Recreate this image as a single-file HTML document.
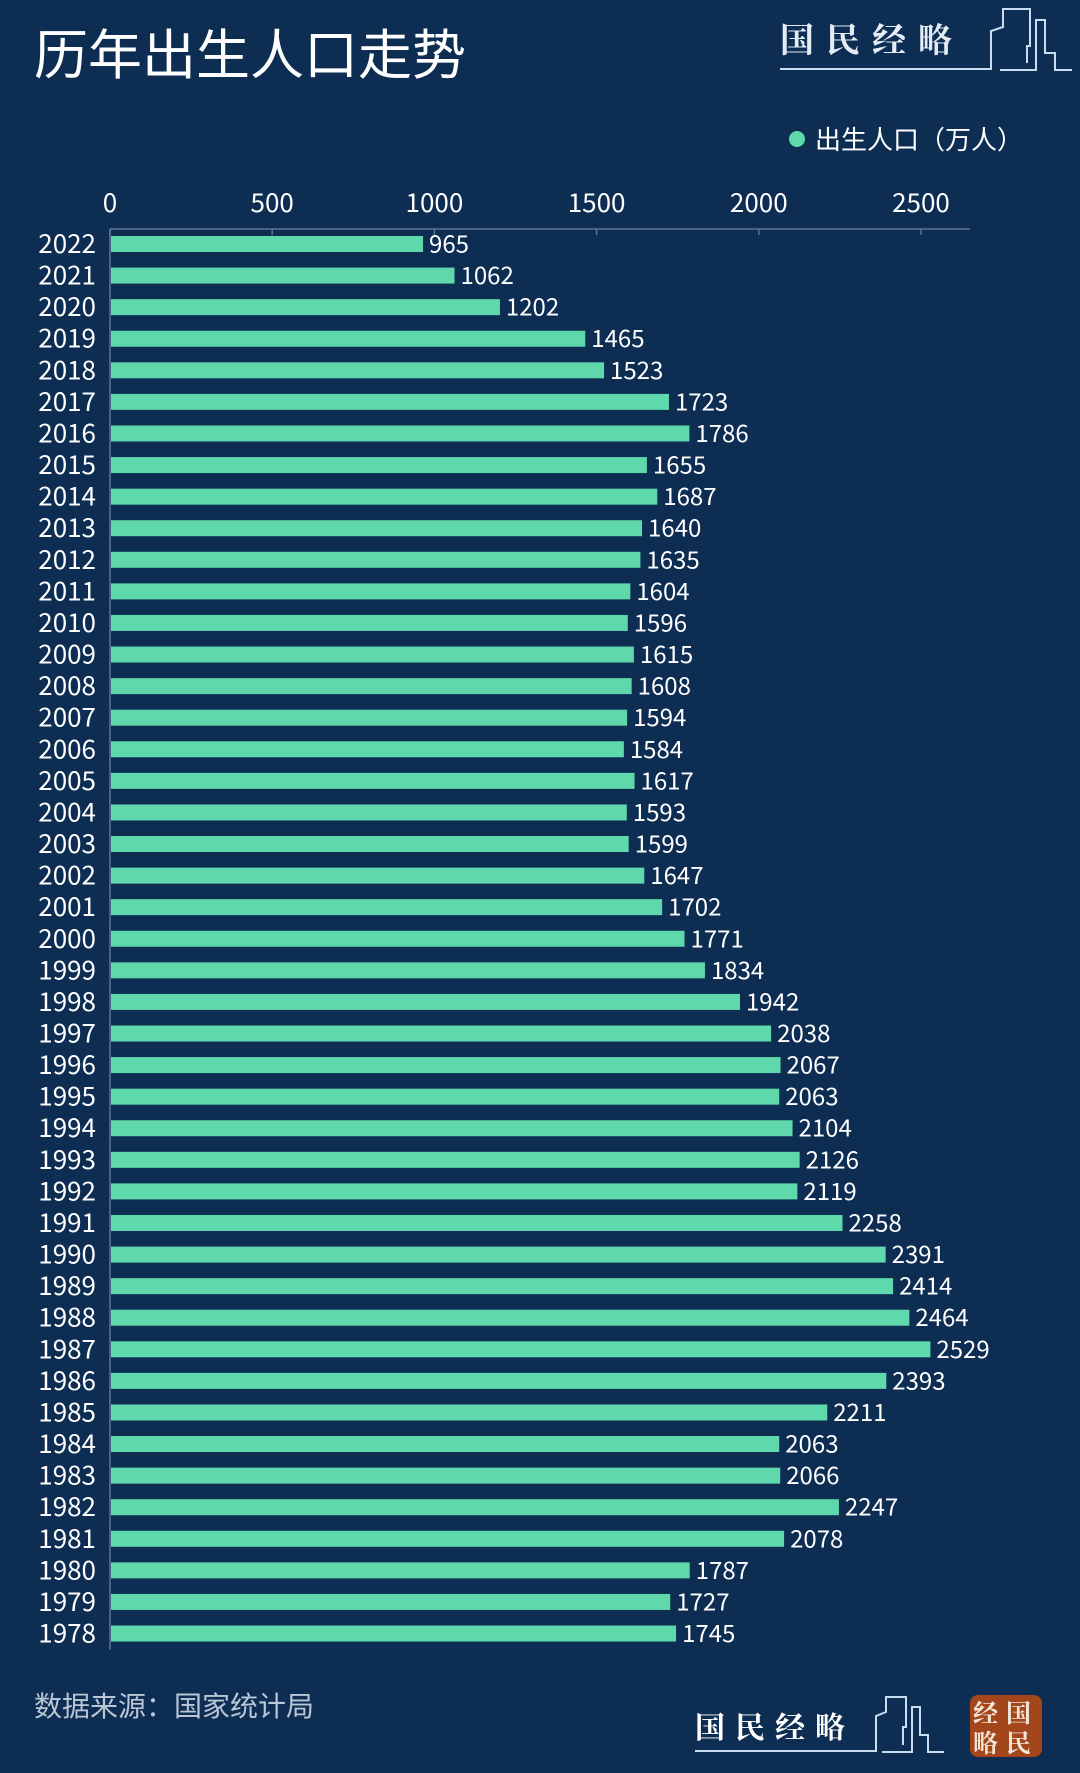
<!DOCTYPE html>
<html><head><meta charset="utf-8">
<style>
html,body{margin:0;padding:0;background:#0d2d53;}
body{width:1080px;height:1768px;position:relative;overflow:hidden;font-family:"Liberation Sans","Noto Sans CJK SC",sans-serif;}
svg text{font-family:"Noto Sans CJK SC","Liberation Sans",sans-serif;}
</style></head>
<body>
<svg id="chart" width="1080" height="1768" viewBox="0 0 1080 1768" xmlns="http://www.w3.org/2000/svg">
  <rect width="1080" height="1768" fill="#0d2d53"/>
  <text x="34" y="74" font-size="54" fill="#ffffff">历年出生人口走势</text>
  <g fill="none" stroke="#c9dcf0" stroke-width="2">
    <text x="780" y="52" font-size="34" font-weight="bold" fill="#e4ecf5" stroke="none" letter-spacing="12" style="font-family:'Noto Serif CJK SC',serif">国民经略</text>
    <polyline points="780,69 991,69 991,31 1003,27 1003,9 1030,9 1030,46 1027,46 1027,63"/>
    <polyline points="1000,70 1036,70 1036,20 1045,20 1045,53 1055,53 1055,70 1072,70"/>
  </g>
  <g>
    <circle cx="797" cy="139" r="8" fill="#5fd8ab"/>
    <text x="815" y="149" font-size="26" fill="#ffffff">出生人口（万人）</text>
  </g>
  <g id="plot"></g>
  <text x="34" y="1716" font-size="28" fill="#b9c6d6">数据来源：国家统计局</text>
  <g fill="none" stroke="#c9dcf0" stroke-width="2">
    <text x="695" y="1738" font-size="30" font-weight="bold" fill="#ffffff" stroke="none" letter-spacing="10" style="font-family:'Noto Serif CJK SC',serif">国民经略</text>
    <polyline points="695,1751 876,1751 876,1716 886,1712 886,1697 906,1697 906,1727 903,1727 903,1745"/>
    <polyline points="882,1752 912,1752 912,1707 920,1707 920,1735 928,1735 928,1752 944,1752"/>
    <rect x="970" y="1695" width="72" height="62" rx="8" fill="#a4461b" stroke="none"/>
    <text x="973" y="1722" font-size="25" font-weight="bold" fill="#f3e6d8" stroke="none" letter-spacing="8" style="font-family:'Noto Serif CJK SC',serif">经国</text>
    <text x="973" y="1752" font-size="25" font-weight="bold" fill="#f3e6d8" stroke="none" letter-spacing="8" style="font-family:'Noto Serif CJK SC',serif">略民</text>
  </g>
</svg>
<script>
const years = [2022,2021,2020,2019,2018,2017,2016,2015,2014,2013,2012,2011,2010,2009,2008,2007,2006,2005,2004,2003,2002,2001,2000,1999,1998,1997,1996,1995,1994,1993,1992,1991,1990,1989,1988,1987,1986,1985,1984,1983,1982,1981,1980,1979,1978];
const births = [965,1062,1202,1465,1523,1723,1786,1655,1687,1640,1635,1604,1596,1615,1608,1594,1584,1617,1593,1599,1647,1702,1771,1834,1942,2038,2067,2063,2104,2126,2119,2258,2391,2414,2464,2529,2393,2211,2063,2066,2247,2078,1787,1727,1745];
const ticks = [0,500,1000,1500,2000,2500];

const NS = 'http://www.w3.org/2000/svg';
const plot = document.getElementById('plot');
const x0 = 110, xMaxPx = 921, vMax = 2500;
const xScale = v => x0 + v * (xMaxPx - x0) / vMax;
const yTop = 244, step = 31.58, barH = 16;
const yScale = i => yTop + i * step;

function mk(tag, attrs) {
  const e = document.createElementNS(NS, tag);
  for (const k in attrs) e.setAttribute(k, attrs[k]);
  plot.appendChild(e);
  return e;
}

const axisTop = mk('line', {x1: x0, y1: 229, x2: 970, y2: 229, stroke: '#5d7593', 'stroke-width': 1.5});


const axisLeft = mk('line', {x1: x0, y1: 229, x2: x0, y2: 1650, stroke: '#5d7593', 'stroke-width': 1.5});



ticks.forEach(t => {
  const tl = mk('text', {x: xScale(t), y: 212, 'font-size': 26, fill: '#ffffff', 'text-anchor': 'middle'});
  tl.textContent = t;
  
  
  const tk = mk('line', {x1: xScale(t), y1: 229, x2: xScale(t), y2: 235, stroke: '#5d7593', 'stroke-width': 1.5});
  
  
});

years.forEach((yr, i) => {
  const cy = yScale(i);
  const bar = mk('rect', {x: x0 + 1, y: cy - barH / 2, width: xScale(births[i]) - x0 - 1, height: barH, fill: '#5fd8ab'});
  
  
  const yl = mk('text', {x: 96, y: cy + 9, 'font-size': 26, fill: '#ffffff', 'text-anchor': 'end'});
  yl.textContent = yr;
  
  
  const vl = mk('text', {x: xScale(births[i]) + 6, y: cy + 8.5, 'font-size': 24, fill: '#ffffff'});
  vl.textContent = births[i];
  
  
});
</script>
</body></html>
